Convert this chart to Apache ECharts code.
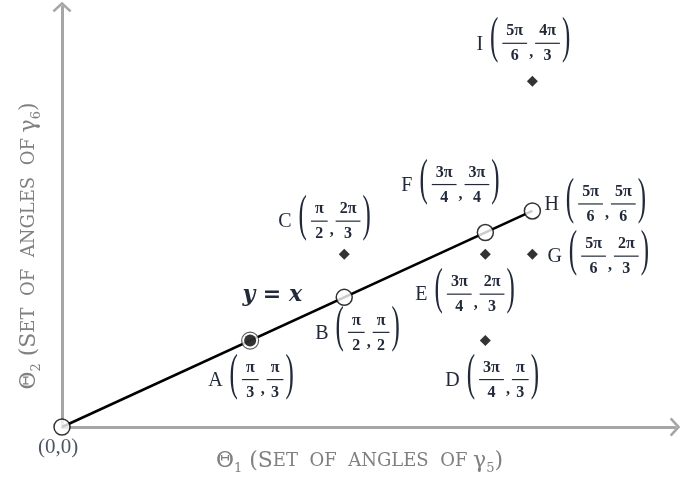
<!DOCTYPE html>
<html>
<head>
<meta charset="utf-8">
<script src="https://cdn.jsdelivr.net/npm/echarts@6/dist/echarts.min.js"></script>
<style>
  html, body { margin: 0; padding: 0; background: #fff; }
  #main { width: 683px; height: 485px; }
</style>
</head>
<body>
<div id="main"></div>
<script>
// point data, coordinates in units of pi
const names = ['A', 'B', 'C', 'D', 'E', 'F', 'G', 'H', 'I'];
const xVals = [1/3, 1/2, 1/2, 3/4, 3/4, 3/4, 5/6, 5/6, 5/6];
const yVals = [1/3, 1/2, 2/3, 1/3, 2/3, 3/4, 2/3, 5/6, 4/3];
const xNum = ['π', 'π', 'π', '3π', '3π', '3π', '5π', '5π', '5π'];
const xDen = ['3', '2', '2', '4', '4', '4', '6', '6', '6'];
const yNum = ['π', 'π', '2π', 'π', '2π', '3π', '2π', '5π', '4π'];
const yDen = ['3', '2', '3', '3', '3', '4', '3', '6', '3'];
const markerKind = ['dot', 'open', 'diamond', 'diamond', 'diamond', 'open', 'diamond', 'open', 'diamond'];
const lineEnds = [[0, 0], [5/6, 5/6]];

// where each label sits relative to its point (px)
const labelOffset = [[-42, 40], [-29, 36], [-66, -32], [-40, 40], [-70, 41], [-84, -47], [15, 3], [12, -6], [-56, -37]];

const txtColor = '#222a3a';
const axisColor = '#a6a6a6';
const nameColor = '#808080';
const serif = '"Liberation Serif", "DejaVu Serif", serif';
const wideSerif = '"DejaVu Serif", serif';
const letterFont = '20px ' + serif;
const fracFont = 'bold 16px ' + serif;

const ctx = document.createElement('canvas').getContext('2d');
function measure(t, f) { ctx.font = f; return ctx.measureText(t).width; }

function pick(kind) {
    let out = [];
    for (let i = 0; i < names.length; i++) {
        if (markerKind[i] == kind) out.push([xVals[i], yVals[i]]);
    }
    return out;
}

function fraction(children, x, cy, num, den) {
    let w = Math.max(measure(num, fracFont), measure(den, fracFont)) + 8;
    children.push({ type: 'text', x: x + w / 2, y: cy - 13,
        style: { text: num, font: fracFont, fill: txtColor, align: 'center', verticalAlign: 'middle' } });
    children.push({ type: 'line', shape: { x1: x, y1: cy - 1, x2: x + w, y2: cy - 1 },
        style: { stroke: txtColor, lineWidth: 1.2 } });
    children.push({ type: 'text', x: x + w / 2, y: cy + 12,
        style: { text: den, font: fracFont, fill: txtColor, align: 'center', verticalAlign: 'middle' } });
    return w;
}

function paren(children, x, cy, ch) {
    children.push({ type: 'text', x: x, y: cy - 5, scaleX: 0.5,
        style: { text: ch, font: '50px ' + serif, fill: txtColor, verticalAlign: 'middle' } });
    return measure(ch, '50px ' + serif) * 0.5;
}

function renderLabel(params, api) {
    let i = api.value(2);
    let p = api.coord([api.value(0), api.value(1)]);
    let x = p[0] + labelOffset[i][0];
    let cy = p[1] + labelOffset[i][1];
    let children = [];
    children.push({ type: 'text', x: x, y: cy,
        style: { text: names[i], font: letterFont, fill: txtColor, verticalAlign: 'middle' } });
    x += measure(names[i], letterFont) + 7;
    x += paren(children, x, cy, '(') + 4;
    x += fraction(children, x, cy, xNum[i], xDen[i]) + 2;
    children.push({ type: 'text', x: x, y: cy + 9,
        style: { text: ',', font: 'bold 16px ' + serif, fill: txtColor, verticalAlign: 'middle' } });
    x += 6;
    x += fraction(children, x, cy, yNum[i], yDen[i]) + 2;
    paren(children, x, cy, ')');
    return { type: 'group', children: children };
}

let labelData = [];
for (let i = 0; i < names.length; i++) labelData.push([xVals[i], yVals[i], i]);

// small caps axis titles
const nameRich = {
    b: { fontFamily: wideSerif, fontSize: 22, lineHeight: 28, color: nameColor },
    s: { fontFamily: wideSerif, fontSize: 18, lineHeight: 28, color: nameColor },
    sub: { fontFamily: wideSerif, fontSize: 13, lineHeight: 14, verticalAlign: 'bottom', color: nameColor }
};
const arrow = 'path://M9,0 L18,8.2 L16.3,10 L9,3.4 L1.7,10 L0,8.2 Z';
const axisBase = {
    type: 'value',
    min: 0,
    splitLine: { show: false },
    axisTick: { show: false },
    axisLabel: { show: false },
    axisLine: { show: true, symbol: ['none', arrow], symbolSize: [19, 11],
        lineStyle: { color: axisColor, width: 3 } },
    nameLocation: 'middle'
};

let myChart = echarts.init(document.getElementById('main'));
let option = {
    animation: false,
    backgroundColor: '#fff',
    grid: { left: 62, right: 8, top: 7, bottom: 58 },
    xAxis: Object.assign({}, axisBase, {
        max: 1.086,
        name: '{b|Θ}{sub|1}{b| (S}{s|ET  OF  ANGLES  OF }{b|γ}{sub|5}{b|)}',
        nameGap: 20,
        nameTextStyle: { padding: [0, 18, 0, 0], rich: nameRich }
    }),
    yAxis: Object.assign({}, axisBase, {
        max: 1.62,
        name: '{b|Θ}{sub|2}{b| (S}{s|ET  OF  ANGLES  OF }{b|γ}{sub|6}{b|)}',
        nameGap: 19,
        nameTextStyle: { padding: [0, 58, 0, 0], rich: nameRich }
    }),
    series: [
        {
            type: 'line', data: lineEnds, symbol: 'none', z: 2,
            lineStyle: { color: '#000', width: 2.5 }
        },
        {
            type: 'scatter', data: [[0, 0]], symbol: 'circle', symbolSize: 16, z: 3,
            itemStyle: { color: '#fff', borderColor: '#000', borderWidth: 1.5 },
            label: { show: true, position: 'bottom', distance: 1, offset: [-4, 0], formatter: '(0,0)',
                fontFamily: serif, fontSize: 21, color: txtColor }
        },
        {
            type: 'scatter', data: pick('open'), symbol: 'circle', symbolSize: 16, z: 3,
            itemStyle: { color: '#fff', borderColor: '#000', borderWidth: 1.5 }
        },
        {
            type: 'scatter', data: pick('dot'), symbol: 'circle', symbolSize: 17, z: 3,
            itemStyle: { color: '#fff', borderColor: '#333', borderWidth: 1.2 }
        },
        {
            type: 'scatter', data: pick('dot'), symbol: 'circle', symbolSize: 12, z: 4,
            itemStyle: { color: '#000' }
        },
        {
            type: 'scatter', data: pick('diamond'), symbol: 'diamond', symbolSize: 11, z: 3,
            itemStyle: { color: '#000' }
        },
        {
            type: 'custom', data: labelData, renderItem: renderLabel, clip: false, z: 5,
            encode: { x: 0, y: 1 }, silent: true
        }
    ]
};
myChart.setOption(option);

// "y = x" annotation next to the line
let b = myChart.convertToPixel({ gridIndex: 0 }, [xVals[1], yVals[1]]);
myChart.setOption({
    graphic: [{
        type: 'text', x: b[0] - 72, y: b[1] - 2,
        style: { text: 'y = x', font: 'bold italic 22px "DejaVu Serif", serif', fill: txtColor,
            align: 'center', verticalAlign: 'middle' }
    }]
});
</script>
</body>
</html>
